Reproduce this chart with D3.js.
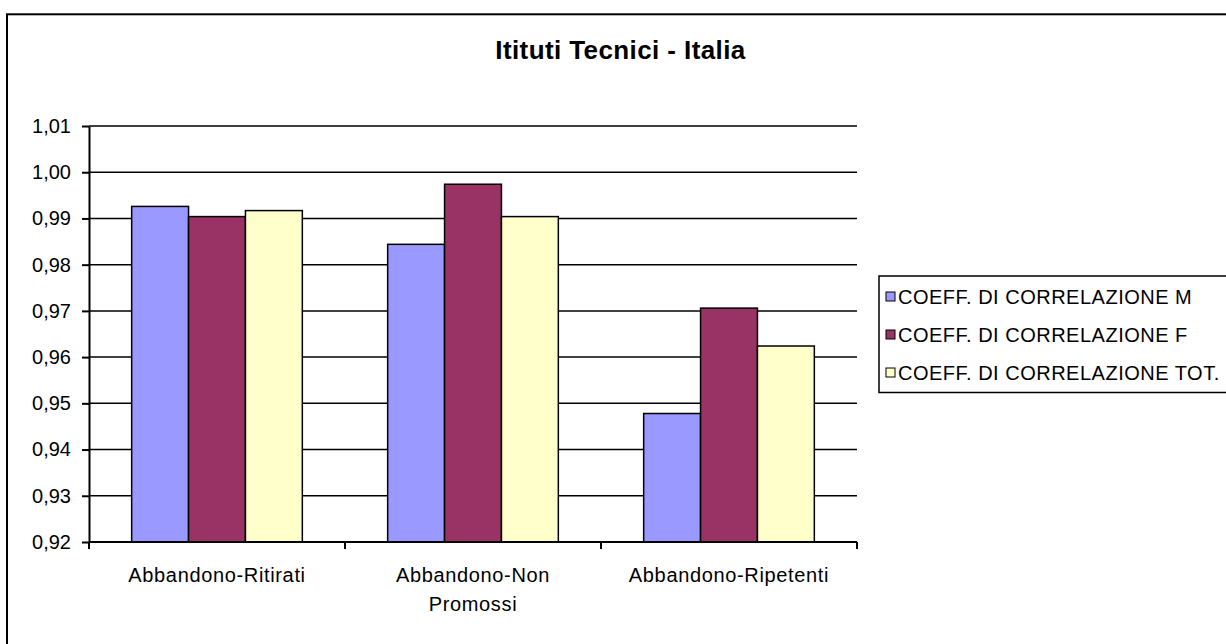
<!DOCTYPE html>
<html>
<head>
<meta charset="utf-8">
<script src="https://cdn.jsdelivr.net/npm/d3@7"></script>
<style>
  body { margin: 0; background: #fff; }
  svg { display: block; font-family: Arial, "Liberation Sans", sans-serif; }
  .grid line { stroke: #000; stroke-width: 1.5; }
  .axis path, .axis line { stroke: #000; stroke-width: 2; }
  .axis text { font-size: 20px; fill: #000; }
  .xaxis text { letter-spacing: 0.65px; }
  .bars { stroke: #000; stroke-width: 1.5; }
  .legendText { font-size: 20px; fill: #000; letter-spacing: 0.5px; }
  .chartTitle { font-size: 26px; font-weight: bold; fill: #000; letter-spacing: 0.4px; }
</style>
</head>
<body>
<script>
(function(){
//chart data
var categories = ["Abbandono-Ritirati", "Abbandono-Non Promossi", "Abbandono-Ripetenti"];
var seriesNames = ["COEFF. DI CORRELAZIONE M", "COEFF. DI CORRELAZIONE F", "COEFF. DI CORRELAZIONE TOT."];
var valuesM = [0.9926, 0.9844, 0.9478];
var valuesF = [0.9904, 0.9974, 0.9706];
var valuesTot = [0.9917, 0.9904, 0.9624];
var yTicks = [0.92, 0.93, 0.94, 0.95, 0.96, 0.97, 0.98, 0.99, 1.00, 1.01];
var colors = ["#9999FF", "#993366", "#FFFFCC"];
var title = "Itituti Tecnici - Italia";

//build rows for the grouped bars
var seriesValues = [valuesM, valuesF, valuesTot];

window.onload = setChart();

function setChart(){
    //frame dimensions
    var width = 1226,
        height = 644,
        plotLeft = 89,
        plotRight = 857,
        plotTop = 126,
        plotBottom = 542;

    var svg = d3.select("body")
        .append("svg")
        .attr("width", width)
        .attr("height", height);

    //outer chart border (runs off the right and bottom edges)
    svg.append("rect")
        .attr("x", 7)
        .attr("y", 14.3)
        .attr("width", 1240)
        .attr("height", 660)
        .attr("fill", "#fff")
        .attr("stroke", "#000")
        .attr("stroke-width", 2);

    //scales
    var yScale = d3.scaleLinear()
        .domain([0.92, 1.01])
        .range([plotBottom, plotTop]);

    var x0 = d3.scaleBand()
        .domain(categories)
        .range([plotLeft, plotRight])
        .paddingInner(0)
        .paddingOuter(0);

    var x1 = d3.scaleBand()
        .domain(d3.range(seriesNames.length))
        .range([0, x0.bandwidth()])
        .paddingInner(0)
        .paddingOuter(0.75);

    var locale = d3.formatLocale({decimal: ",", thousands: ".", grouping: [3], currency: ["", "€"]});
    var fmt = locale.format(".2f");

    //horizontal gridlines
    svg.append("g")
        .attr("class", "grid")
        .selectAll("line")
        .data(yTicks.slice(1))
        .enter()
        .append("line")
        .attr("x1", plotLeft)
        .attr("x2", plotRight)
        .attr("y1", function(d){ return yScale(d); })
        .attr("y2", function(d){ return yScale(d); });

    //bars
    var groups = svg.selectAll(".group")
        .data(categories)
        .enter()
        .append("g")
        .attr("class", "group")
        .attr("transform", function(d){ return "translate(" + x0(d) + ",0)"; });

    groups.selectAll("rect")
        .data(function(d, i){
            return seriesValues.map(function(vals, s){ return {s: s, v: vals[i]}; });
        })
        .enter()
        .append("rect")
        .attr("class", "bars")
        .attr("x", function(d){ return x1(d.s); })
        .attr("width", x1.bandwidth())
        .attr("y", function(d){ return yScale(d.v); })
        .attr("height", function(d){ return plotBottom - yScale(d.v); })
        .style("fill", function(d){ return colors[d.s]; });

    //y axis
    var yAxis = d3.axisLeft(yScale)
        .tickValues(yTicks)
        .tickSize(7)
        .tickSizeOuter(0)
        .tickPadding(11)
        .tickFormat(fmt);
    svg.append("g")
        .attr("class", "axis")
        .attr("transform", "translate(" + plotLeft + ",0)")
        .call(yAxis);

    //x axis with ticks between categories
    var xAxis = d3.axisBottom(x0)
        .tickSize(0)
        .tickPadding(26);
    var xg = svg.append("g")
        .attr("class", "axis xaxis")
        .attr("transform", "translate(0," + plotBottom + ")")
        .call(xAxis);
    xg.select(".domain").attr("d", "M" + plotLeft + ",0H" + plotRight);
    xg.selectAll(".sep")
        .data(d3.range(categories.length + 1))
        .enter()
        .append("line")
        .attr("class", "sep")
        .attr("x1", function(i){ return plotLeft + i * x0.step(); })
        .attr("x2", function(i){ return plotLeft + i * x0.step(); })
        .attr("y1", 0)
        .attr("y2", 7);
    xg.selectAll(".tick text").call(wrap, 215);

    //chart title
    svg.append("text")
        .attr("class", "chartTitle")
        .attr("x", 620.5)
        .attr("y", 59)
        .attr("text-anchor", "middle")
        .text(title);

    //legend
    var legend = svg.append("g")
        .attr("class", "legend");
    legend.append("rect")
        .attr("x", 879)
        .attr("y", 276)
        .attr("width", 400)
        .attr("height", 116.5)
        .attr("fill", "#fff")
        .attr("stroke", "#000")
        .attr("stroke-width", 1.5);
    var items = legend.selectAll(".item")
        .data(seriesNames)
        .enter()
        .append("g")
        .attr("class", "item")
        .attr("transform", function(d, i){ return "translate(0," + (296.5 + i * 38) + ")"; });
    items.append("rect")
        .attr("x", 886)
        .attr("y", -4.5)
        .attr("width", 9)
        .attr("height", 9)
        .attr("stroke", "#000")
        .attr("stroke-width", 1)
        .style("fill", function(d, i){ return colors[i]; });
    items.append("text")
        .attr("class", "legendText")
        .attr("x", 898)
        .attr("y", 7)
        .text(function(d){ return d; });
};//end of setChart

//wrap long category labels onto several lines
function wrap(text, maxWidth){
    text.each(function(){
        var t = d3.select(this),
            words = t.text().split(" "),
            y = t.attr("y"),
            dy = parseFloat(t.attr("dy")),
            line = [],
            lineNo = 0,
            tspan = t.text(null).append("tspan").attr("x", 0).attr("y", y).attr("dy", dy + "em");
        words.forEach(function(w){
            line.push(w);
            tspan.text(line.join(" "));
            if (tspan.node().getComputedTextLength() > maxWidth && line.length > 1){
                line.pop();
                tspan.text(line.join(" "));
                line = [w];
                lineNo++;
                tspan = t.append("tspan").attr("x", 0).attr("y", y)
                    .attr("dy", (dy + lineNo * 1.43) + "em").text(w);
            };
        });
    });
};//end of wrap

})();
</script>
</body>
</html>
